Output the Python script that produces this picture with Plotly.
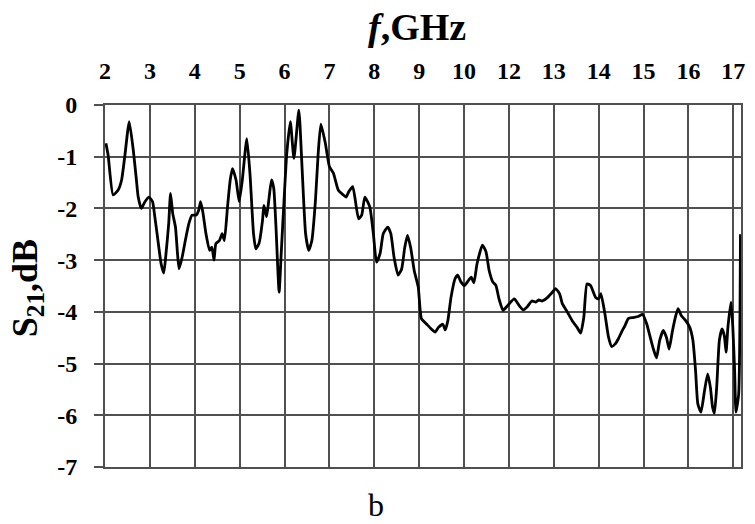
import plotly.graph_objects as go

# Axis positions (tick "2" at 2 ... tick "17" at 16) and S21 values in dB
freq_pos = [
    2.02, 2.07, 2.18, 2.29, 2.37, 2.44, 2.54, 2.63, 2.70, 2.74, 2.81, 2.89, 2.98,
    3.06, 3.11, 3.18, 3.25, 3.31, 3.36, 3.42, 3.46, 3.51, 3.57, 3.61, 3.65, 3.72,
    3.79, 3.87, 3.94, 4.03, 4.09, 4.13, 4.18, 4.25, 4.33, 4.38, 4.43, 4.47, 4.55,
    4.61, 4.66, 4.73, 4.79, 4.84, 4.92, 4.99, 5.06, 5.16, 5.23, 5.31, 5.36, 5.43,
    5.51, 5.54, 5.60, 5.65, 5.71, 5.76, 5.81, 5.88, 5.93, 5.99, 6.05, 6.13, 6.21,
    6.32, 6.39, 6.47, 6.54, 6.61, 6.69, 6.75, 6.81, 6.91, 7.00, 7.09, 7.20, 7.31,
    7.37, 7.43, 7.52, 7.65, 7.72, 7.79, 7.90, 7.98, 8.05, 8.13, 8.20, 8.30, 8.37,
    8.44, 8.53, 8.61, 8.68, 8.74, 8.81, 8.89, 8.98, 9.05, 9.16, 9.27, 9.36, 9.43,
    9.53, 9.58, 9.64, 9.71, 9.80, 9.86, 9.93, 10.01, 10.10, 10.16, 10.22, 10.29,
    10.41, 10.49, 10.56, 10.64, 10.71, 10.78, 10.87, 10.97, 11.12, 11.23, 11.32,
    11.41, 11.51, 11.60, 11.67, 11.74, 11.85, 11.95, 12.04, 12.13, 12.19, 12.30,
    12.41, 12.52, 12.60, 12.67, 12.74, 12.82, 12.93, 13.00, 13.05, 13.14, 13.22,
    13.29, 13.37, 13.44, 13.51, 13.59, 13.66, 13.77, 13.88, 13.98, 14.07, 14.14,
    14.22, 14.29, 14.36, 14.44, 14.51, 14.57, 14.64, 14.72, 14.77, 14.84, 14.94,
    15.03, 15.10, 15.16, 15.21, 15.28, 15.36, 15.43, 15.49, 15.54, 15.58, 15.63,
    15.69, 15.75, 15.80, 15.84, 15.88, 15.95, 15.99, 16.03, 16.06, 16.12, 16.16,
]
s21_db = [
    -0.74, -0.97, -1.74, -1.65, -1.45, -1.00, -0.32, -0.87, -1.45, -1.78, -2.00, -1.87, -1.78,
    -1.87, -2.16, -2.62, -3.07, -3.25, -2.87, -2.29, -1.71, -2.10, -2.36, -2.81, -3.17, -2.94,
    -2.62, -2.29, -2.13, -2.13, -2.03, -1.87, -2.07, -2.49, -2.81, -2.75, -3.00, -2.68, -2.62,
    -2.49, -2.62, -1.97, -1.45, -1.23, -1.45, -1.87, -1.45, -0.65, -1.32, -2.49, -2.78, -2.68,
    -2.23, -1.94, -2.16, -1.84, -1.45, -1.61, -2.36, -3.62, -2.81, -1.84, -0.94, -0.32, -1.03,
    -0.10, -1.19, -2.49, -2.81, -2.62, -1.84, -0.94, -0.37, -0.74, -1.19, -1.32, -1.65, -1.74,
    -1.78, -1.68, -1.58, -2.20, -2.13, -1.78, -1.97, -2.49, -3.04, -2.87, -2.49, -2.36, -2.49,
    -2.94, -3.29, -3.17, -2.75, -2.52, -2.75, -3.20, -3.52, -4.13, -4.23, -4.33, -4.39, -4.30,
    -4.24, -4.35, -4.17, -3.72, -3.36, -3.29, -3.42, -3.49, -3.39, -3.33, -3.44, -3.07,
    -2.71, -2.84, -3.20, -3.42, -3.49, -3.75, -3.97, -3.88, -3.75, -3.88, -3.96,
    -3.90, -3.79, -3.81, -3.77, -3.79, -3.73, -3.64, -3.55, -3.65, -3.84, -4.00,
    -4.17, -4.30, -4.41, -4.10, -3.46, -3.49, -3.72, -3.75, -3.65, -4.04, -4.49,
    -4.67, -4.62, -4.52, -4.39, -4.26, -4.13, -4.11, -4.09, -4.05, -4.23, -4.46,
    -4.72, -4.89, -4.55, -4.36, -4.49, -4.72, -4.39, -4.07, -3.94, -4.07, -4.17,
    -4.30, -4.55, -5.14, -5.78, -5.94, -5.52, -5.20, -5.46, -5.85, -5.96, -5.46,
    -4.55, -4.33, -4.46, -4.78, -4.30, -3.81, -4.30, -5.14, -5.94, -5.59, -2.50,
]

x_tickvals = list(range(2, 17))
x_ticklabels = ["2", "3", "4", "5", "6", "7", "8", "9", "10", "12", "13", "14", "15", "16", "17"]
y_tickvals = [0, -1, -2, -3, -4, -5, -6, -7]
y_ticklabels = ["0", "-1", "-2", "-3", "-4", "-5", "-6", "-7"]

SERIF = "Liberation Serif"
GRID = "#505050"

fig = go.Figure()
fig.add_trace(go.Scatter(
    x=freq_pos, y=s21_db, mode="lines",
    line=dict(color="black", width=2.8, shape="spline", smoothing=0.5),
    showlegend=False, hoverinfo="skip",
))

fig.update_layout(
    width=755, height=524,
    margin=dict(l=105, r=10, t=105, b=57),
    paper_bgcolor="white", plot_bgcolor="white",
    xaxis=dict(
        side="top", range=[2, 16.172], tickvals=x_tickvals, ticktext=x_ticklabels,
        showgrid=True, gridcolor=GRID, gridwidth=2,
        showline=True, mirror=True, linecolor=GRID, linewidth=2,
        ticks="", ticklabelstandoff=14, zeroline=False,
        tickfont=dict(family=SERIF, size=24, color="black", weight="bold"),
    ),
    yaxis=dict(
        range=[-7, 0], tickvals=y_tickvals, ticktext=y_ticklabels,
        showgrid=True, gridcolor=GRID, gridwidth=2,
        showline=True, mirror=True, linecolor=GRID, linewidth=2,
        ticks="outside", ticklen=9, tickwidth=2, tickcolor=GRID, zeroline=False,
        ticklabelstandoff=12,
        tickfont=dict(family=SERIF, size=24, color="black", weight="bold"),
    ),
    annotations=[
        dict(text="<b><i>f</i>,GHz</b>", xref="paper", yref="paper",
             x=0.49, y=1.215, xanchor="center", yanchor="middle", showarrow=False,
             font=dict(family=SERIF, size=38, color="black")),
        dict(text="<b>S<sub>21</sub>,dB</b>", xref="paper", yref="paper",
             x=-0.122, y=0.495, xanchor="center", yanchor="middle", showarrow=False,
             textangle=-90, font=dict(family=SERIF, size=36, color="black")),
        dict(text="b", xref="paper", yref="paper",
             x=0.4266, y=-0.105, xanchor="center", yanchor="middle", showarrow=False,
             font=dict(family=SERIF, size=32, color="black")),
    ],
)

fig.write_html("out.html")
